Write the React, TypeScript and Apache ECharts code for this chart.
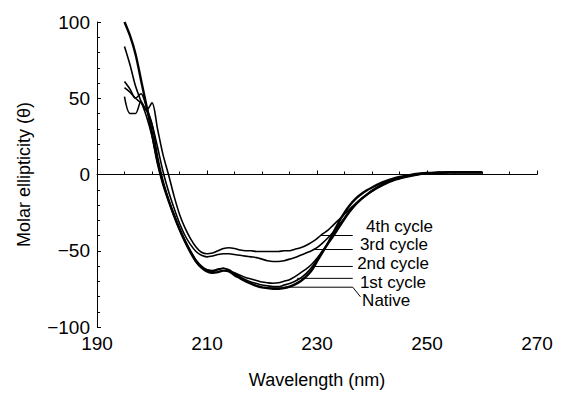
import React, { useEffect, useRef } from "react";
import * as echarts from "echarts";

const wavelengths = [195,196,197,198,199,200,201,202,203,204,205,206,207,208,209,210,211,212,213,214,215,216,217,218,219,220,221,222,223,224,225,226,227,228,229,230,231,232,233,234,235,236,237,238,239,240,242,244,246,248,250,252,254,256,258,260];

const nativeValues = [100,91,79,62,45,27,8,-6,-17,-27,-36,-44,-51,-57,-61,-63.5,-64.5,-64,-63,-63.5,-66,-68,-70,-71.5,-73,-74,-74.5,-75,-75,-74.5,-73.5,-72,-70,-67,-63,-57,-51,-45,-38,-31,-25,-20,-16,-13,-10.5,-8.5,-5,-2.5,-1,0.3,1,1.3,1.5,1.5,1.5,1.5];
const cycle1Values = [84,72,58,48,38,25,8,-6,-17,-27,-36,-44,-51,-57,-60.5,-62.5,-63,-62,-61.5,-62.5,-65,-67,-69,-70.5,-71.5,-72.5,-73,-73.5,-73.5,-72.5,-71.5,-70,-68,-65,-61,-56,-50.5,-45,-39.5,-34,-28.5,-23.5,-19.5,-16,-13,-10.5,-6.5,-3.5,-1.5,0,0.8,1.2,1.4,1.4,1.4,1.4];
const cycle2Values = [61,56,50,53,44,33,12,-4,-16,-26,-35,-43,-50,-56,-60,-62.5,-63.5,-62.5,-61.5,-63,-64.5,-66,-67.5,-68.5,-69.5,-70.5,-71,-71.3,-71,-70,-69,-67,-64.5,-62,-59,-55,-50,-45.5,-40.5,-35,-29.5,-24.5,-20,-16.5,-13.5,-11,-7,-4,-2,-0.5,0.7,1.1,1.3,1.3,1.3,1.3];
const cycle3Values = [57,54,50,47,42,33,18,2,-11,-22,-32,-40,-46,-50.5,-53,-54,-53.5,-52.5,-52,-52,-52.5,-53,-53.5,-54,-54.5,-55.5,-56.5,-57,-57,-56.5,-55.5,-54.5,-53,-51.5,-50,-48,-45,-41.5,-37.5,-33,-28.5,-24,-20,-16.5,-13.5,-10.5,-6,-3,-1,0.3,1,1.2,1.3,1.3,1.3,1.3];
const cycle4Values = [51,40,40,48,42,47,30,13,0,-14,-26,-35,-42,-47.5,-51,-52,-51.5,-50,-48.5,-48,-48.5,-49.5,-50,-50,-50.5,-50.5,-50.5,-50.5,-50.5,-50,-50,-49,-48,-46.5,-44.5,-42,-39,-36.5,-33,-29.5,-26,-22.5,-19,-16,-13.5,-11,-6.5,-3.5,-1.5,0,0.8,1.2,1.3,1.3,1.3,1.3];

const seriesNames = ["Native", "1st cycle", "2nd cycle", "3rd cycle", "4th cycle"];
const seriesValues = [nativeValues, cycle1Values, cycle2Values, cycle3Values, cycle4Values];
const seriesWidths = [2.4, 1.6, 1.6, 1.6, 1.6];

const xTicks = [190, 210, 230, 250, 270];
const yTicks = [-100, -50, 0, 50, 100];

const annotationLabels = ["4th cycle", "3rd cycle", "2nd cycle", "1st cycle", "Native"];
const leaderStartNm = [230.7, 229.5, 229.3, 226.4, 220.9];
const leaderEndNm = 236.5;
const leaderValue = [-40, -49.2, -60.3, -68.1, -73.9];
const labelNm = [238.9, 237.8, 237.3, 237.8, 238.2];
const labelValue = [-34.2, -45.6, -58.3, -71, -82.7];

const FONT = "'Liberation Sans', Arial, Helvetica, sans-serif";

export default function App() {
  const ref = useRef<HTMLDivElement>(null);
  useEffect(() => {
    if (!ref.current) return;
    const chart = echarts.init(ref.current, null, { renderer: "svg" });
    const series: any[] = seriesNames.map((name, i) => ({
      name,
      type: "line",
      data: wavelengths.map((w, j) => [w, seriesValues[i][j]]),
      showSymbol: false,
      smooth: 0.3,
      lineStyle: { color: "#000", width: seriesWidths[i] },
      z: 3,
    }));
    series[0].markLine = {
      silent: true,
      symbol: ["none", "none"],
      label: { show: false },
      lineStyle: { color: "#000", width: 1, type: "solid" },
      data: [[{ coord: [xTicks[0], 0] }, { coord: [xTicks[xTicks.length - 1], 0] }]],
    };
    chart.setOption({
      animation: false,
      backgroundColor: "#fff",
      textStyle: { fontFamily: FONT },
      grid: { left: 97, right: 24, top: 22, bottom: 65 },
      xAxis: {
        type: "value",
        min: 190,
        max: 270,
        interval: 20,
        name: "Wavelength (nm)",
        nameLocation: "middle",
        nameGap: 44,
        nameTextStyle: { color: "#000", fontSize: 18, fontFamily: FONT },
        axisLine: { lineStyle: { color: "#000", width: 1 } },
        axisTick: { inside: true, length: 4, lineStyle: { color: "#000" } },
        minorTick: { show: true, splitNumber: 4, length: 3, lineStyle: { color: "#000" } },
        splitLine: { show: false },
        axisLabel: { color: "#000", fontSize: 19, margin: 7, fontFamily: FONT },
      },
      yAxis: {
        type: "value",
        min: -100,
        max: 100,
        interval: 50,
        name: "Molar ellipticity (\u03b8)",
        nameLocation: "middle",
        nameRotate: 90,
        nameGap: 64,
        nameTextStyle: { color: "#000", fontSize: 18, fontFamily: FONT },
        axisLine: { show: true, onZero: false, lineStyle: { color: "#000", width: 1 } },
        axisTick: { inside: true, length: 4, lineStyle: { color: "#000" } },
        minorTick: { show: true, splitNumber: 5, length: 3, lineStyle: { color: "#000" } },
        splitLine: { show: false },
        axisLabel: {
          color: "#000",
          fontSize: 19,
          margin: 7,
          fontFamily: FONT,
          formatter: (v: number) => (yTicks.includes(v) ? String(v).replace("-", "\u2212") : ""),
        },
      },
      series,
    });
    const graphic: any[] = [];
    annotationLabels.forEach((label, i) => {
      const p1 = chart.convertToPixel({ gridIndex: 0 }, [leaderStartNm[i], leaderValue[i]]);
      const p2 = chart.convertToPixel({ gridIndex: 0 }, [leaderEndNm, leaderValue[i]]);
      const points = [p1, p2];
      if (i === annotationLabels.length - 1) {
        points.push(chart.convertToPixel({ gridIndex: 0 }, [labelNm[i] - 0.3, labelValue[i] + 2.5]));
      }
      graphic.push({
        type: "polyline",
        shape: { points },
        style: { stroke: "#000", lineWidth: 1, fill: null },
        z: 10,
      });
      const lp = chart.convertToPixel({ gridIndex: 0 }, [labelNm[i], labelValue[i]]);
      graphic.push({
        type: "text",
        x: lp[0],
        y: lp[1],
        style: {
          text: label,
          font: `17px ${FONT}`,
          fill: "#000",
          align: "left",
          verticalAlign: "middle",
        },
        z: 10,
      });
    });
    chart.setOption({ graphic });
    return () => chart.dispose();
  }, []);
  return <div ref={ref} style={{ width: 561, height: 394, position: "absolute", left: 0, top: 0 }} />;
}
